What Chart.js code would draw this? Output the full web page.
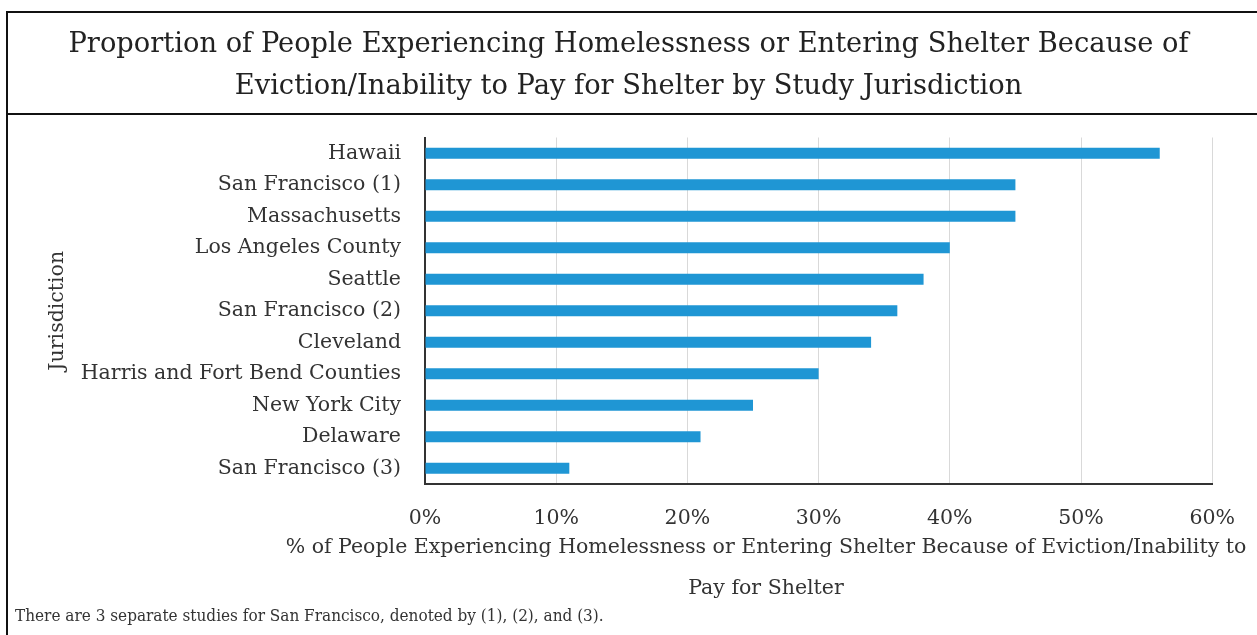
<!DOCTYPE html>
<html>
<head>
<meta charset="utf-8">
<script src="https://cdn.jsdelivr.net/npm/chart.js@4.4.1/dist/chart.umd.min.js"></script>
<style>
  html, body { margin: 0; padding: 0; background: #fff; }
  #chart { display: block; }
</style>
</head>
<body>
<canvas id="chart" width="1257" height="635"></canvas>
<script>
// chart data
const jurisdictions = [
  'Hawaii', 'San Francisco (1)', 'Massachusetts', 'Los Angeles County', 'Seattle',
  'San Francisco (2)', 'Cleveland', 'Harris and Fort Bend Counties', 'New York City',
  'Delaware', 'San Francisco (3)'
];
const evictionShare = [56, 45, 45, 40, 38, 36, 34, 30, 25, 21, 11];
const xTickMax = 60;
const xTickStep = 10;

const titleLines = [
  'Proportion of People Experiencing Homelessness or Entering Shelter Because of',
  'Eviction/Inability to Pay for Shelter by Study Jurisdiction'
];
const xTitleLines = [
  '% of People Experiencing Homelessness or Entering Shelter Because of Eviction/Inability to',
  'Pay for Shelter'
];
const yTitle = 'Jurisdiction';
const footnote = 'There are 3 separate studies for San Francisco, denoted by (1), (2), and (3).';

const SERIF = '"DejaVu Serif", "Liberation Serif", serif';
const TEXT = '#333333';
const LABEL_SIZE = 20.5;

// white page, the frame lines, the x axis title and the footnote
const framePlugin = {
  id: 'frame',
  beforeDraw(chart) {
    const { ctx, width, height } = chart;
    ctx.save();
    ctx.fillStyle = '#fff';
    ctx.fillRect(0, 0, width, height);
    ctx.restore();
  },
  afterDraw(chart) {
    const { ctx, width, height, chartArea } = chart;
    ctx.save();
    ctx.strokeStyle = '#111';
    ctx.lineWidth = 2;
    ctx.beginPath();
    ctx.moveTo(7, height); ctx.lineTo(7, 12); ctx.lineTo(width, 12);
    ctx.moveTo(7, 114); ctx.lineTo(width, 114);
    ctx.stroke();

    ctx.fillStyle = TEXT;
    ctx.textAlign = 'center';
    ctx.textBaseline = 'middle';
    ctx.font = LABEL_SIZE + 'px ' + SERIF;
    xTitleLines.forEach((line, i) => ctx.fillText(line, 766, chartArea.bottom + 64 + i * 41));

    ctx.textAlign = 'left';
    ctx.font = '17px "DejaVu Serif Condensed", ' + SERIF;
    ctx.fillText(footnote, 15, 617);
    ctx.restore();
  }
};

new Chart(document.getElementById('chart'), {
  type: 'bar',
  data: {
    labels: jurisdictions,
    datasets: [{
      data: evictionShare,
      backgroundColor: '#1f96d4',
      barPercentage: 0.35,
      categoryPercentage: 1
    }]
  },
  options: {
    indexAxis: 'y',
    responsive: false,
    animation: false,
    layout: { padding: { left: 42, right: 42, top: 0, bottom: 0 } },
    plugins: {
      legend: { display: false },
      tooltip: { enabled: false },
      title: {
        display: true,
        text: titleLines,
        color: '#222',
        font: { family: SERIF, size: 27.3, weight: 'normal', lineHeight: 42 / 27.3 },
        padding: { top: 24, bottom: 29.5 }
      }
    },
    scales: {
      x: {
        min: 0,
        max: xTickMax,
        grid: { color: '#d9d9d9', lineWidth: 1, drawTicks: false },
        border: { display: true, color: '#333', width: 2 },
        ticks: {
          stepSize: xTickStep,
          padding: 22,
          color: TEXT,
          font: { family: SERIF, size: LABEL_SIZE },
          callback: v => v + '%'
        },
        afterFit(scale) { scale.height = 151; }
      },
      y: {
        grid: { display: false, drawTicks: false },
        border: { display: true, color: '#333', width: 2 },
        ticks: {
          padding: 24,
          color: TEXT,
          font: { family: SERIF, size: LABEL_SIZE }
        },
        title: {
          display: true,
          text: yTitle,
          color: TEXT,
          font: { family: SERIF, size: LABEL_SIZE },
          padding: { top: 3, bottom: 0 }
        },
        afterFit(scale) { scale.width = 383; }
      }
    }
  },
  plugins: [framePlugin]
});
</script>
</body>
</html>
